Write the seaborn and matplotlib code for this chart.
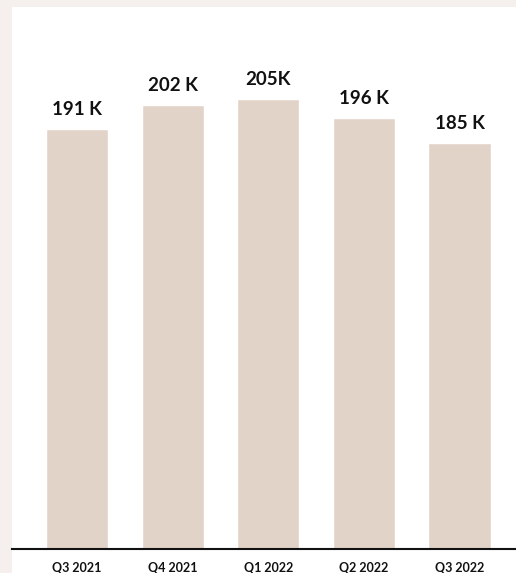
import matplotlib
matplotlib.use("Agg")
import matplotlib.pyplot as plt
import seaborn as sns
import pandas as pd
from matplotlib.patches import Rectangle

quarters = ["Q3 2021", "Q4 2021", "Q1 2022", "Q2 2022", "Q3 2022"]
values = [191, 202, 205, 196, 185]
value_labels = ["191 K", "202 K", "205K", "196 K", "185 K"]

df = pd.DataFrame({"quarter": quarters, "value": values})

sns.set_theme(style="white")
plt.rcParams["font.family"] = ["Lato", "DejaVu Sans"]

W, H = 516, 573
fig = plt.figure(figsize=(W / 100, H / 100), dpi=100)
fig.patch.set_facecolor("#f5f0ed")
fig.patches.append(Rectangle((12 / W, 0), 1 - 12 / W, (H - 7) / H,
                             transform=fig.transFigure, facecolor="white",
                             edgecolor="none", zorder=-10))

ax = fig.add_axes([12 / W, (H - 549) / H, (W - 12) / W, (549 - 7) / H])
ax.set_facecolor("none")
ax.set_zorder(5)

sns.barplot(data=df, x="quarter", y="value", color="#e2d3c9", saturation=1,
            width=0.65, ax=ax)

ax.set_ylim(0, 542 / 2.197)
ax.set_xlim(-0.68, 4.59)

for i, (v, lab) in enumerate(zip(values, value_labels)):
    ax.annotate(lab, (i, v), xytext=(0, 14), textcoords="offset pixels",
                ha="center", va="baseline", fontsize=13.5, color="#111111",
                fontweight="bold")

ax.set_xlabel("")
ax.set_ylabel("")
ax.set_yticks([])
ax.tick_params(axis="x", length=0, pad=9, labelsize=9, labelcolor="#111111")
for t in ax.get_xticklabels():
    t.set_fontweight("bold")
for s in ["top", "right", "left"]:
    ax.spines[s].set_visible(False)
ax.spines["bottom"].set_color("#111111")
ax.spines["bottom"].set_linewidth(1.5)

fig.savefig("out.png", dpi=100, facecolor=fig.get_facecolor())
